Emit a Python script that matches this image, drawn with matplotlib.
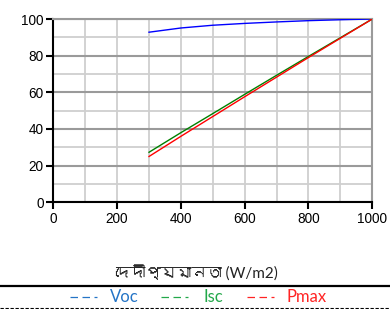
import matplotlib
matplotlib.use("Agg")
import matplotlib.pyplot as plt
from matplotlib import font_manager
from matplotlib.ft2font import FT2Font
from matplotlib.lines import Line2D

irradiance = [300, 400, 500, 600, 700, 800, 900, 1000]
voc = [92.8, 95.1, 96.6, 97.6, 98.4, 99.1, 99.6, 100]
isc = [27.3, 38.0, 48.4, 58.9, 69.3, 79.6, 89.8, 100]
pmax = [25.0, 36.0, 46.8, 57.6, 68.3, 79.0, 89.5, 100]
series_names = ["Voc", "Isc", "Pmax"]
line_colors = ["#0000FF", "#008000", "#FF0000"]
legend_colors = ["#2474C6", "#22A84A", "#FF2424"]
xlabel_text = "দেদীপ্যমানতা (W/m2)"

# find a font with Bengali glyphs if any
bengali_font = None
for f in font_manager.fontManager.ttflist:
    try:
        cm = FT2Font(f.fname).get_charmap()
        if 0x09A6 in cm and 0x09AE in cm:
            bengali_font = f.name
            break
    except Exception:
        pass
label_family = ["Lato"] + ([bengali_font] if bengali_font else []) + ["DejaVu Sans"]

plt.rcParams["font.family"] = ["Liberation Sans", "DejaVu Sans"]

fig = plt.figure(figsize=(3.9, 3.09), dpi=100)
ax = fig.add_axes([0.1367, 0.3453, 0.8179, 0.5932])

ax.set_xlim(0, 1000)
ax.set_ylim(0, 100)
ax.set_xticks(range(0, 1001, 200))
ax.set_yticks(range(0, 101, 20))
ax.set_xticks(range(0, 1001, 100), minor=True)
ax.set_yticks(range(0, 101, 10), minor=True)
ax.tick_params(axis="both", which="major", direction="out", length=5, width=1.5,
               labelsize=9.8, colors="black", pad=2)
ax.tick_params(axis="x", which="minor", length=0)
ax.tick_params(axis="y", which="minor", length=0)

ax.grid(axis="y", which="major", color="#9a9a9a", linewidth=1.5, zorder=0)
ax.grid(axis="y", which="minor", color="#cfcfcf", linewidth=1.3, zorder=0)
ax.grid(axis="x", which="both", color="#cfcfcf", linewidth=1.3, zorder=0)
ax.set_axisbelow(True)

for s in ["left", "bottom"]:
    ax.spines[s].set_color("black")
    ax.spines[s].set_linewidth(1.5)
for s in ["right", "top"]:
    ax.spines[s].set_color("#9a9a9a")
    ax.spines[s].set_linewidth(1.5)

for vals, c in zip([voc, isc, pmax], line_colors):
    ax.plot(irradiance, vals, color=c, linewidth=1.0, zorder=3)

fig.text(0.503, 0.1133, xlabel_text, ha="center", va="center", fontsize=11,
         family=label_family, color="#222222")

fig.add_artist(Line2D([0, 1], [0.0744, 0.0744], color="black", linewidth=1.6,
                      transform=fig.transFigure))
fig.add_artist(Line2D([0, 1], [0.004, 0.004], color="black", linewidth=0.8,
                      linestyle=(0, (3, 1.5)), transform=fig.transFigure))

dash_x = [70, 161, 247]
text_x = [110, 203, 287]
ly = 1 - 296.7 / 309
for name, c, dx, tx in zip(series_names, legend_colors, dash_x, text_x):
    fig.add_artist(Line2D([dx / 390, (dx + 27) / 390], [ly, ly], color=c,
                          linewidth=0.9, dashes=(6.0, 3.6),
                          transform=fig.transFigure))
    fig.text(tx / 390, ly, name, color=c, fontsize=12, family=["Lato", "DejaVu Sans"],
             ha="left", va="center")

fig.savefig("out.png", dpi=100)
